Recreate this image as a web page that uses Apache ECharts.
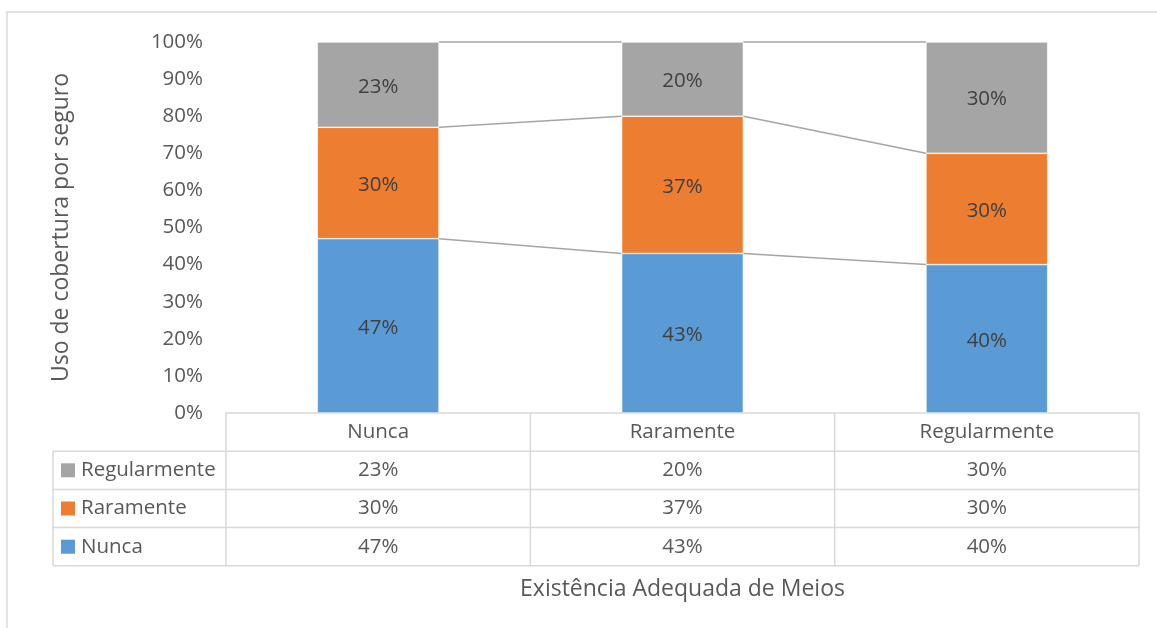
<!DOCTYPE html>
<html>
<head>
<meta charset="utf-8">
<title>Uso de cobertura por seguro</title>
<script src="https://cdn.jsdelivr.net/npm/echarts@6/dist/echarts.min.js"></script>
<style>
  html, body { margin: 0; padding: 0; background: #fff; }
  #main { width: 1157px; height: 628px; }
</style>
</head>
<body>
<div id="main"></div>
<script>
// dados do gráfico
var categories = ['Nunca', 'Raramente', 'Regularmente'];
var nunca = [47, 43, 40];
var raramente = [30, 37, 30];
var regularmente = [23, 20, 30];
var seriesNames = ['Nunca', 'Raramente', 'Regularmente'];
var colors = ['#5b9bd5', '#ed7d31', '#a5a5a5'];

var myChart = echarts.init(document.getElementById('main'));

// acumulados para as linhas de série (entre as colunas)
var seriesLineData = [];
for (var i = 0; i < categories.length - 1; i++) {
  var a1 = nunca[i], a2 = a1 + raramente[i], a3 = a2 + regularmente[i];
  var b1 = nunca[i + 1], b2 = b1 + raramente[i + 1], b3 = b2 + regularmente[i + 1];
  seriesLineData.push([i, a1, a2, a3, b1, b2, b3]);
}

// dados da tabela por baixo do eixo
var tableData = [];
for (var j = 0; j < categories.length; j++) {
  tableData.push([j, 0, regularmente[j], raramente[j], nunca[j]]);
}

var textColor = '#595959';
var gridColor = '#d9d9d9';
var rowH = 38.2;
var fs = 20.5;

function barSeries(name, data, color) {
  return {
    name: name,
    type: 'bar',
    stack: 'total',
    barWidth: '40%',
    data: data,
    itemStyle: { color: color, borderColor: '#fff', borderWidth: 0.6 },
    label: {
      show: true,
      position: 'inside',
      formatter: '{c}%',
      color: '#404040',
      fontSize: fs,
      offset: [0, 2]
    }
  };
}

var option = {
  animation: false,
  textStyle: { fontFamily: 'Open Sans' },
  graphic: [{
    type: 'rect',
    shape: { x: 7, y: 12, width: 1200, height: 700 },
    style: { fill: 'none', stroke: gridColor, lineWidth: 1.5 },
    silent: true
  }],
  grid: { left: 226, right: 18, top: 42, bottom: 215 },
  xAxis: {
    type: 'category',
    data: categories,
    axisLine: { show: true, lineStyle: { color: gridColor, width: 1.5 } },
    axisTick: { show: false },
    axisLabel: { show: false },
    name: 'Existência Adequada de Meios',
    nameLocation: 'middle',
    nameGap: 165,
    nameTextStyle: { color: textColor, fontSize: 23 }
  },
  yAxis: {
    type: 'value',
    min: 0,
    max: 100,
    interval: 10,
    axisLine: { show: false },
    axisTick: { show: false },
    splitLine: { show: false },
    axisLabel: { formatter: '{value}%', color: textColor, fontSize: fs, margin: 23 },
    name: 'Uso de cobertura por seguro',
    nameLocation: 'middle',
    nameGap: 153,
    nameTextStyle: { color: textColor, fontSize: 23 }
  },
  series: [
    barSeries(seriesNames[0], nunca, colors[0]),
    barSeries(seriesNames[1], raramente, colors[1]),
    barSeries(seriesNames[2], regularmente, colors[2]),
    {
      // linhas de série ao estilo Excel
      type: 'custom',
      silent: true,
      encode: { x: 0, y: [1, 2, 3, 4, 5, 6] },
      data: seriesLineData,
      renderItem: function (params, api) {
        var idx = api.value(0);
        var barW = api.size([1, 0])[0] * 0.4;
        var x0 = api.coord([idx, 0])[0] + barW / 2;
        var x1 = api.coord([idx + 1, 0])[0] - barW / 2;
        var children = [];
        for (var k = 1; k <= 3; k++) {
          var y0 = api.coord([idx, api.value(k)])[1];
          var y1 = api.coord([idx + 1, api.value(k + 3)])[1];
          children.push({
            type: 'line',
            shape: { x1: x0, y1: y0, x2: x1, y2: y1 },
            style: { stroke: '#a5a5a5', lineWidth: 1.5 }
          });
        }
        return { type: 'group', children: children };
      }
    },
    {
      // tabela de dados
      type: 'custom',
      silent: true,
      encode: { x: 0, y: 1 },
      data: tableData,
      renderItem: function (params, api) {
        var idx = api.value(0);
        var base = api.coord([idx, 0]);
        var cx = base[0];
        var top = base[1];
        var bw = api.size([1, 0])[0];
        var left = cx - bw / 2;
        var right = cx + bw / 2;
        var lineStyle = { stroke: gridColor, lineWidth: 1.5 };
        var txt = { fill: textColor, fontSize: fs, fontFamily: 'Open Sans', align: 'center', verticalAlign: 'middle' };
        var children = [];
        children.push({ type: 'line', shape: { x1: left, y1: top, x2: left, y2: top + rowH * 4 }, style: lineStyle });
        if (idx === categories.length - 1) {
          children.push({ type: 'line', shape: { x1: right, y1: top, x2: right, y2: top + rowH * 4 }, style: lineStyle });
        }
        for (var r = 1; r <= 4; r++) {
          children.push({ type: 'line', shape: { x1: left, y1: top + rowH * r, x2: right, y2: top + rowH * r }, style: lineStyle });
        }
        children.push({ type: 'text', x: cx, y: top + rowH / 2, style: Object.assign({ text: categories[idx] }, txt) });
        for (var v = 0; v < 3; v++) {
          children.push({ type: 'text', x: cx, y: top + rowH * (v + 1.5), style: Object.assign({ text: api.value(v + 2) + '%' }, txt) });
        }
        if (idx === 0) {
          var tl = left - 173;
          children.push({ type: 'line', shape: { x1: tl, y1: top + rowH, x2: tl, y2: top + rowH * 4 }, style: lineStyle });
          for (var r2 = 1; r2 <= 4; r2++) {
            children.push({ type: 'line', shape: { x1: tl, y1: top + rowH * r2, x2: left, y2: top + rowH * r2 }, style: lineStyle });
          }
          // ordem das linhas: Regularmente, Raramente, Nunca
          for (var s = 0; s < 3; s++) {
            var si = 2 - s;
            var yc = top + rowH * (s + 1.5);
            children.push({ type: 'rect', shape: { x: tl + 8, y: yc - 7, width: 14, height: 14 }, style: { fill: colors[si] } });
            children.push({ type: 'text', x: tl + 28, y: yc, style: { text: seriesNames[si], fill: textColor, fontSize: fs, fontFamily: 'Open Sans', align: 'left', verticalAlign: 'middle' } });
          }
        }
        return { type: 'group', children: children };
      }
    }
  ]
};

myChart.setOption(option);
</script>
</body>
</html>
